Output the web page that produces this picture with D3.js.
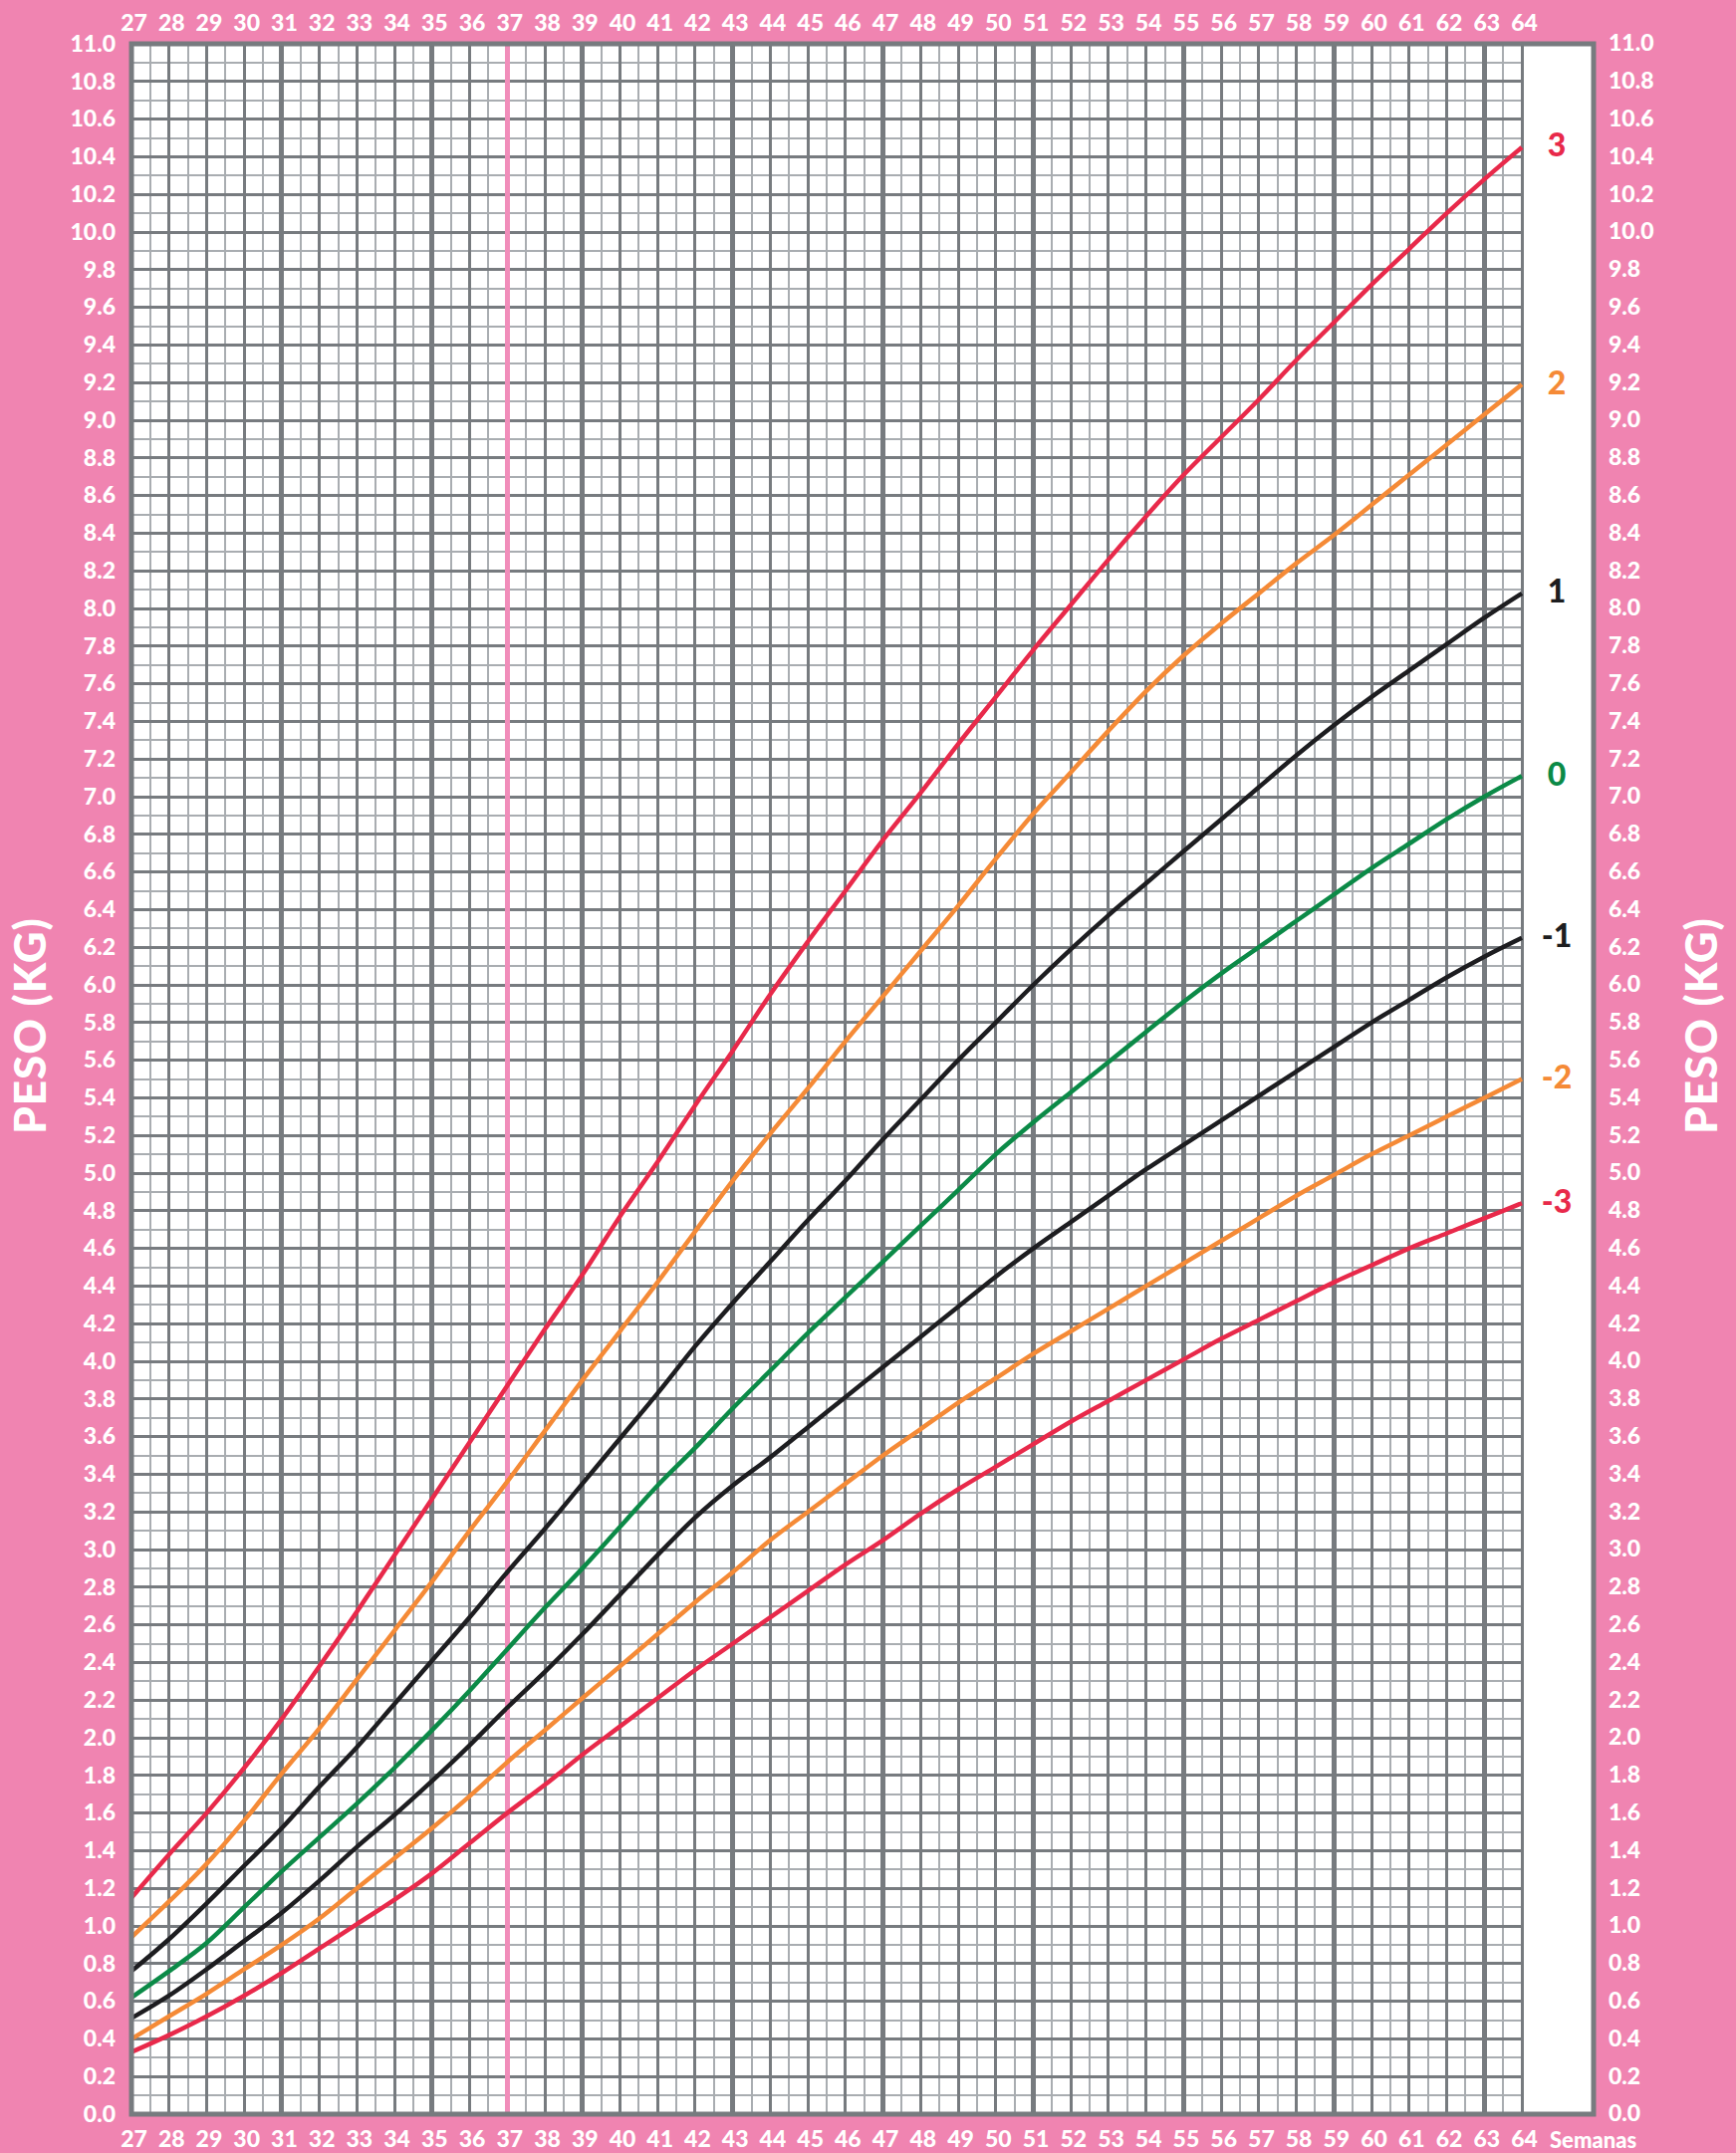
<!DOCTYPE html>
<html><head><meta charset="utf-8">
<script src="https://cdn.jsdelivr.net/npm/d3@7"></script>
<style>
html,body{margin:0;padding:0;background:#f084b1;}
svg{display:block;}
text{font-family:Lato,"Open Sans",sans-serif;font-weight:900;}
</style></head><body>
<svg id="chart" width="1743" height="2162"></svg>
<script>
// ---------- DATA ----------
const weeks = [27,28,29,30,31,32,33,34,35,36,37,38,39,40,41,42,43,44,45,46,47,48,49,50,51,52,53,54,55,56,57,58,59,60,61,62,63,64];
const sdPlus3  = [1.15,1.38,1.60,1.84,2.10,2.38,2.67,2.97,3.27,3.57,3.87,4.17,4.46,4.77,5.06,5.36,5.65,5.95,6.23,6.50,6.77,7.02,7.28,7.53,7.78,8.02,8.26,8.49,8.71,8.91,9.11,9.32,9.52,9.72,9.91,10.10,10.28,10.45];
const sdPlus2  = [0.94,1.13,1.33,1.56,1.81,2.05,2.31,2.57,2.83,3.10,3.36,3.63,3.90,4.16,4.42,4.69,4.96,5.21,5.45,5.70,5.94,6.18,6.42,6.67,6.91,7.13,7.35,7.56,7.75,7.92,8.08,8.24,8.39,8.55,8.71,8.87,9.03,9.19];
const sdPlus1  = [0.76,0.93,1.12,1.32,1.52,1.74,1.95,2.18,2.41,2.64,2.88,3.11,3.35,3.59,3.83,4.08,4.31,4.53,4.75,4.96,5.18,5.39,5.60,5.80,6.00,6.19,6.37,6.54,6.71,6.88,7.05,7.22,7.38,7.53,7.67,7.81,7.95,8.08];
const sdZero   = [0.62,0.76,0.91,1.10,1.29,1.47,1.65,1.84,2.04,2.25,2.47,2.69,2.90,3.12,3.34,3.54,3.75,3.95,4.15,4.34,4.53,4.72,4.91,5.10,5.27,5.43,5.59,5.75,5.91,6.06,6.20,6.34,6.48,6.62,6.75,6.88,7.00,7.11];
const sdMinus1 = [0.51,0.63,0.77,0.92,1.07,1.24,1.42,1.59,1.77,1.96,2.16,2.35,2.55,2.76,2.97,3.17,3.34,3.49,3.65,3.81,3.97,4.13,4.29,4.45,4.60,4.74,4.88,5.02,5.15,5.28,5.41,5.54,5.67,5.80,5.92,6.04,6.15,6.25];
const sdMinus2 = [0.40,0.52,0.64,0.77,0.90,1.04,1.20,1.36,1.52,1.69,1.87,2.04,2.21,2.38,2.55,2.72,2.88,3.05,3.20,3.35,3.50,3.64,3.78,3.91,4.04,4.16,4.28,4.40,4.52,4.64,4.76,4.88,4.99,5.10,5.20,5.30,5.40,5.50];
const sdMinus3 = [0.33,0.42,0.52,0.63,0.75,0.88,1.01,1.14,1.28,1.44,1.60,1.75,1.91,2.06,2.21,2.36,2.50,2.64,2.78,2.92,3.05,3.19,3.32,3.44,3.56,3.68,3.79,3.90,4.01,4.12,4.22,4.32,4.42,4.51,4.60,4.68,4.76,4.84];
const seriesLabels = ["3","2","1","0","-1","-2","-3"];
const yTicks = [0.0,0.2,0.4,0.6,0.8,1.0,1.2,1.4,1.6,1.8,2.0,2.2,2.4,2.6,2.8,3.0,3.2,3.4,3.6,3.8,4.0,4.2,4.4,4.6,4.8,5.0,5.2,5.4,5.6,5.8,6.0,6.2,6.4,6.6,6.8,7.0,7.2,7.4,7.6,7.8,8.0,8.2,8.4,8.6,8.8,9.0,9.2,9.4,9.6,9.8,10.0,10.2,10.4,10.6,10.8,11.0];
const thickWeeks = [31,35,39,43,47,51,55,59,63];
const markWeek = 37;
const axisTitle = "PESO (KG)";
const xTitle = "Semanas";

// ---------- STYLE ----------
const RED = "#e8294a", ORANGE = "#f58a36", BLACK = "#1d1d20", GREEN = "#0b8a47";
const seriesColors = [RED, ORANGE, BLACK, GREEN, BLACK, ORANGE, RED];
const seriesData = [sdPlus3, sdPlus2, sdPlus1, sdZero, sdMinus1, sdMinus2, sdMinus3];
const PINK_BG = "#f084b1", GRID_DARK = "#777b7f", GRID_LIGHT = "#a9adb1";
const FONT = "Lato, 'Open Sans', sans-serif";

const W = 1743, H = 2162;
const pLeft = 132, gridRight = 1528, frameRight = 1600, pTop = 44, pBottom = 2123;
const x = d3.scaleLinear().domain([27, 64]).range([pLeft, gridRight]);
const y = d3.scaleLinear().domain([0, 11]).range([pBottom, pTop]);

const svg = d3.select("#chart");
svg.append("rect").attr("width", W).attr("height", H).attr("fill", PINK_BG);
svg.append("rect").attr("x", pLeft).attr("y", pTop).attr("width", frameRight - pLeft).attr("height", pBottom - pTop).attr("fill", "#fff");

const grid = svg.append("g").attr("shape-rendering", "crispEdges");
grid.selectAll(".mv").data(d3.range(27.5, 64, 1)).join("line")
  .attr("x1", d => x(d)).attr("x2", d => x(d)).attr("y1", pTop).attr("y2", pBottom)
  .attr("stroke", GRID_LIGHT).attr("stroke-width", 2);
grid.selectAll(".mh").data(d3.range(1, 110, 2).map(d => d / 10)).join("line")
  .attr("x1", pLeft).attr("x2", gridRight).attr("y1", d => y(d)).attr("y2", d => y(d))
  .attr("stroke", GRID_LIGHT).attr("stroke-width", 2);
grid.selectAll(".Mh").data(yTicks).join("line")
  .attr("x1", pLeft).attr("x2", gridRight).attr("y1", d => y(d)).attr("y2", d => y(d))
  .attr("stroke", GRID_DARK).attr("stroke-width", 3);
grid.selectAll(".Mv").data(weeks.filter(w => !thickWeeks.includes(w) && w !== markWeek)).join("line")
  .attr("x1", d => x(d)).attr("x2", d => x(d)).attr("y1", pTop).attr("y2", pBottom)
  .attr("stroke", GRID_DARK).attr("stroke-width", 3);
grid.selectAll(".Tv").data(thickWeeks).join("line")
  .attr("x1", d => x(d)).attr("x2", d => x(d)).attr("y1", pTop).attr("y2", pBottom)
  .attr("stroke", GRID_DARK).attr("stroke-width", 5);
grid.append("line").attr("x1", x(markWeek)).attr("x2", x(markWeek)).attr("y1", pTop).attr("y2", pBottom)
  .attr("stroke", "#f18dba").attr("stroke-width", 5);

const line = d3.line().x((d, i) => x(weeks[i])).y(d => y(d)).curve(d3.curveMonotoneX);
svg.append("g").selectAll("path").data(seriesData).join("path")
  .attr("d", line).attr("fill", "none")
  .attr("stroke", (d, i) => seriesColors[i]).attr("stroke-width", 4.5)
  .attr("stroke-linejoin", "round");

svg.append("rect").attr("x", pLeft).attr("y", pTop).attr("width", frameRight - pLeft).attr("height", pBottom - pTop)
  .attr("fill", "none").attr("stroke", GRID_DARK).attr("stroke-width", 5);

svg.append("g").selectAll("text").data(seriesData).join("text")
  .attr("x", 1563).attr("y", d => y(d[d.length - 1]) - 2).attr("dy", "0.36em")
  .attr("text-anchor", "middle").attr("font-size", 32)
  .attr("fill", (d, i) => seriesColors[i]).text((d, i) => seriesLabels[i]);

function styleAxis(g) {
  g.select(".domain").remove();
  g.selectAll("line").remove();
  g.selectAll("text").attr("fill", "#fff").attr("font-size", 23)
    .attr("font-family", FONT).attr("font-weight", 900);
}
svg.append("g").attr("transform", "translate(2,31)")
  .call(d3.axisTop(x).tickValues(weeks).tickSize(0).tickPadding(0).tickFormat(d3.format("d"))).call(styleAxis);
svg.append("g").attr("transform", "translate(2,2140)")
  .call(d3.axisBottom(x).tickValues(weeks).tickSize(0).tickPadding(0).tickFormat(d3.format("d"))).call(styleAxis);
svg.append("g").attr("transform", "translate(116,0)")
  .call(d3.axisLeft(y).tickValues(yTicks).tickSize(0).tickPadding(0).tickFormat(d3.format(".1f"))).call(styleAxis);
svg.append("g").attr("transform", "translate(1615,0)")
  .call(d3.axisRight(y).tickValues(yTicks).tickSize(0).tickPadding(0).tickFormat(d3.format(".1f"))).call(styleAxis)
  .selectAll("text").attr("dy", "0.3em");

svg.append("text").attr("x", 1556).attr("y", 2157).attr("fill", "#fff").attr("font-size", 22).text(xTitle);

[30, 1708].forEach(cx => {
  svg.append("text").attr("transform", `translate(${cx},1030) rotate(-90)`)
    .attr("text-anchor", "middle").attr("dy", "0.36em").attr("font-size", 44)
    .attr("letter-spacing", 1)
    .attr("fill", "#fff").text(axisTitle);
});
</script>
</body></html>
